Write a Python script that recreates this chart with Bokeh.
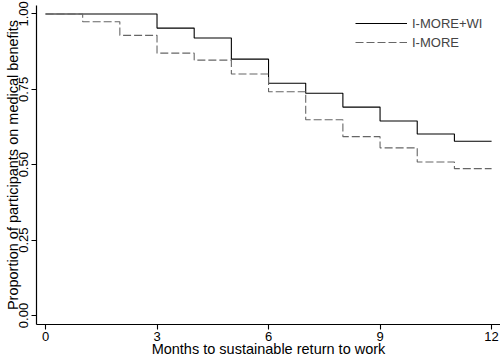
from bokeh.plotting import figure
from bokeh.models import Range1d, FixedTicker, Legend, LegendItem
from bokeh.embed import file_html
from bokeh.resources import INLINE

months = [0, 1, 2, 3, 4, 5, 6, 7, 8, 9, 10, 11, 12]
wi_surv = [1.0, 1.0, 1.0, 0.953, 0.920, 0.850, 0.770, 0.737, 0.691, 0.645, 0.602, 0.578, 0.578]
more_surv = [1.0, 0.974, 0.929, 0.870, 0.847, 0.801, 0.742, 0.649, 0.593, 0.556, 0.509, 0.487, 0.487]
x_ticks = [0, 3, 6, 9, 12]
y_ticks = [0.0, 0.25, 0.5, 0.75, 1.0]
series_names = ["I-MORE+WI", "I-MORE"]

FONT = "Liberation Sans"

p = figure(width=500, height=359, output_backend="svg", toolbar_location=None,
           x_range=Range1d(-0.242, 12.24), y_range=Range1d(-0.0299, 1.028),
           min_border_left=36, min_border_right=0, min_border_top=5, min_border_bottom=35)
p.outline_line_color = None
p.xgrid.visible = False
p.ygrid.visible = False
p.background_fill_color = "white"

r1 = p.step(months, wi_surv, mode="after", line_color="black", line_width=1.1)
r2 = p.step(months, more_surv, mode="after", line_color="#666666", line_width=1.1, line_dash="8 3")

for ax in (p.xaxis, p.yaxis):
    ax.axis_line_color = "black"
    ax.axis_line_width = 1.2
    ax.major_tick_line_color = "black"
    ax.major_tick_line_width = 1.1
    ax.major_tick_out = 5
    ax.major_tick_in = 0
    ax.minor_tick_line_color = None
    ax.major_label_text_font = FONT
    ax.major_label_text_font_size = "13px"
    ax.major_label_text_color = "black"
    ax.axis_label_text_font = FONT
    ax.axis_label_text_font_size = "14.5px"
    ax.axis_label_text_font_style = "normal"
    ax.axis_label_text_color = "black"

p.xaxis.ticker = FixedTicker(ticks=x_ticks)
p.yaxis.ticker = FixedTicker(ticks=y_ticks)
p.yaxis.major_label_overrides = {t: f"{t:.2f}" for t in y_ticks}
p.xaxis.major_label_overrides = {t: str(t) for t in x_ticks}
p.yaxis.major_label_orientation = "vertical"
p.xaxis.major_label_standoff = 2
p.yaxis.major_label_standoff = 3
p.xaxis.axis_label = "Months to sustainable return to work"
p.yaxis.axis_label = "Proportion of participants on medical benefits"
p.xaxis.axis_label_standoff = -3
p.yaxis.axis_label_standoff = -4

legend = Legend(items=[LegendItem(label=series_names[0], renderers=[r1]),
                       LegendItem(label=series_names[1], renderers=[r2])],
                location=(319, 274), border_line_color=None, background_fill_alpha=0,
                padding=0, margin=0, spacing=3, glyph_width=52, glyph_height=16,
                label_standoff=5, label_text_font=FONT, label_text_font_size="13px",
                label_height=16)
p.add_layout(legend)

open("out.html", "w").write(file_html(p, INLINE))
